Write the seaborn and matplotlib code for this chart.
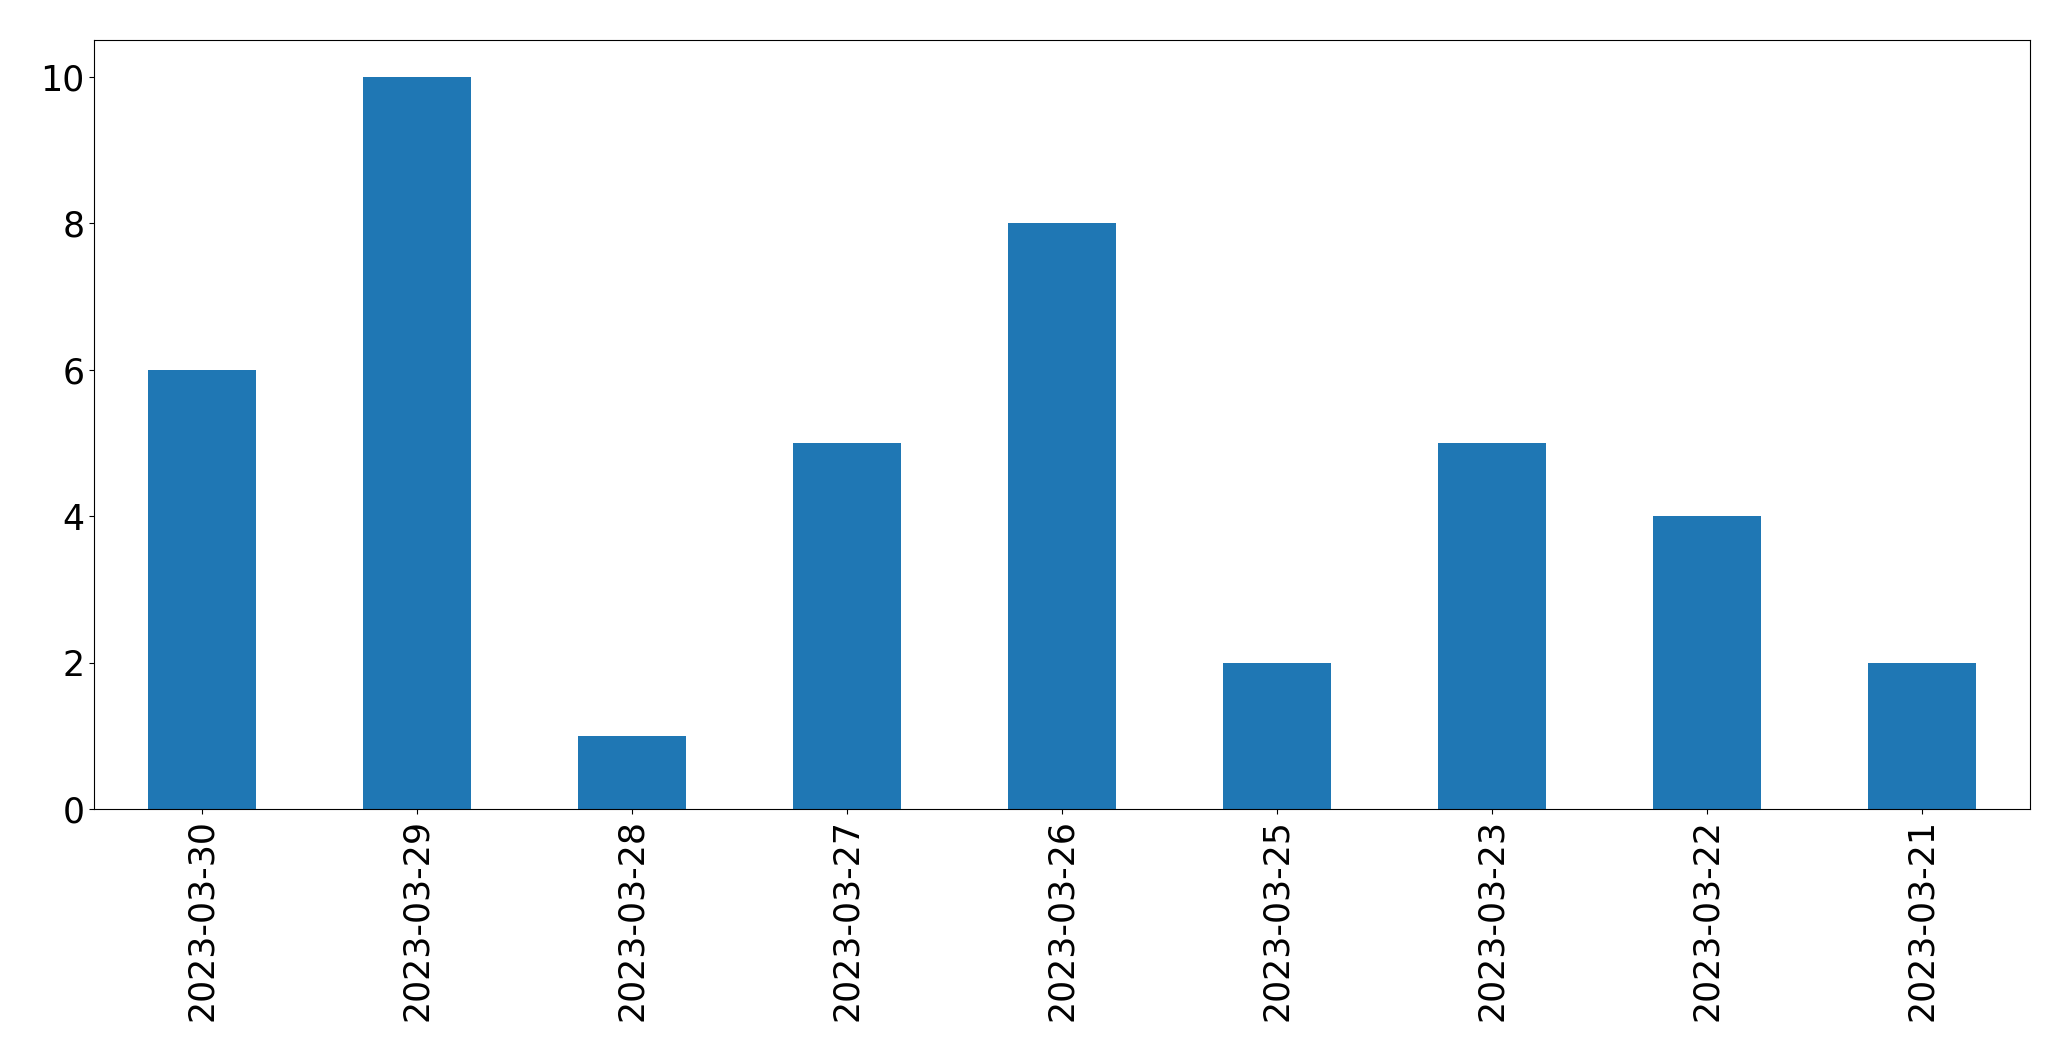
import pandas as pd
import matplotlib
matplotlib.use("Agg")
import matplotlib.pyplot as plt
import seaborn as sns

fechas = ["2023-03-30", "2023-03-29", "2023-03-28", "2023-03-27", "2023-03-26",
          "2023-03-25", "2023-03-23", "2023-03-22", "2023-03-21"]
conteos = [6, 10, 1, 5, 8, 2, 5, 4, 2]

df = pd.DataFrame({"fecha": fechas, "conteo": conteos})

fig = plt.figure(figsize=(20.71, 10.61), dpi=100)
ax = fig.add_axes([0.0455, 0.2375, 0.9345, 0.7245])

sns.barplot(data=df, x="fecha", y="conteo", ax=ax, color="#1f77b4",
            saturation=1, width=0.5, order=fechas)

ax.set_xlabel("")
ax.set_ylabel("")
ax.set_xlim(-0.5, len(fechas) - 0.5)
ax.set_ylim(0, 10.5)
ax.tick_params(axis="x", labelrotation=90, labelsize=25)
ax.tick_params(axis="y", labelsize=25)

fig.savefig("out.png", dpi=100)
